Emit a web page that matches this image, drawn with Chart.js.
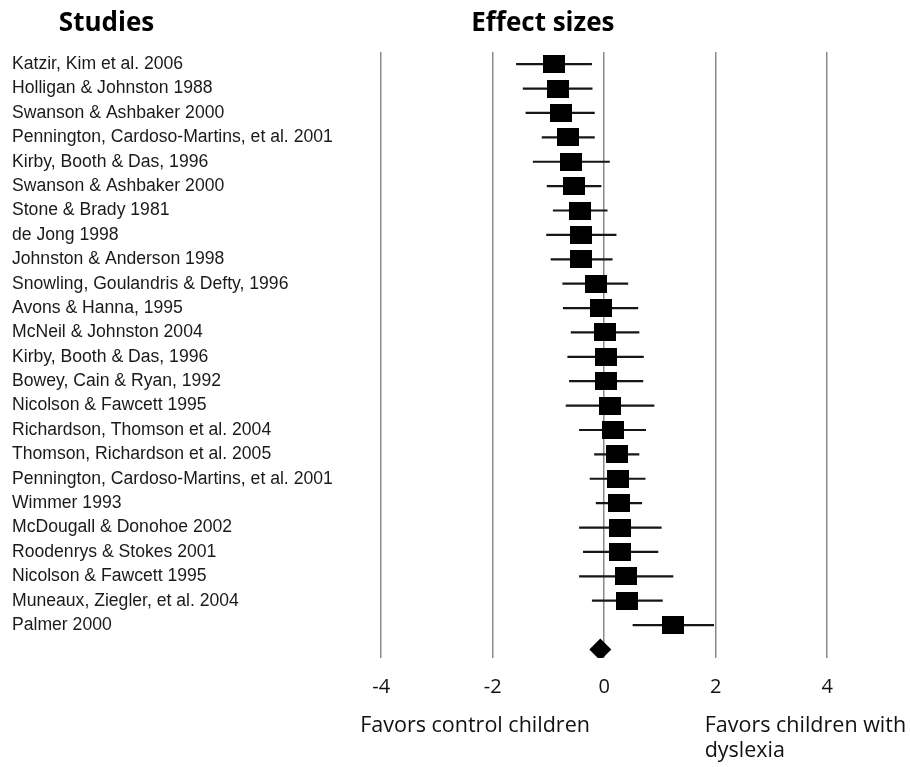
<!DOCTYPE html>
<html>
<head>
<meta charset="utf-8">
<script src="https://cdn.jsdelivr.net/npm/chart.js@4/dist/chart.umd.min.js"></script>
<style>
  html, body { margin: 0; padding: 0; background: #ffffff; }
  #wrap { width: 910px; height: 767px; }
</style>
</head>
<body>
<div id="wrap"><canvas id="forest" width="910" height="767"></canvas></div>
<script>
// Studies, top to bottom
const studies = [
  "Katzir, Kim et al. 2006",
  "Holligan & Johnston 1988",
  "Swanson & Ashbaker 2000",
  "Pennington, Cardoso-Martins, et al. 2001",
  "Kirby, Booth & Das, 1996",
  "Swanson & Ashbaker 2000",
  "Stone & Brady 1981",
  "de Jong 1998",
  "Johnston & Anderson 1998",
  "Snowling, Goulandris & Defty, 1996",
  "Avons & Hanna, 1995",
  "McNeil & Johnston 2004",
  "Kirby, Booth & Das, 1996",
  "Bowey, Cain & Ryan, 1992",
  "Nicolson & Fawcett 1995",
  "Richardson, Thomson et al. 2004",
  "Thomson, Richardson et al. 2005",
  "Pennington, Cardoso-Martins, et al. 2001",
  "Wimmer 1993",
  "McDougall & Donohoe 2002",
  "Roodenrys & Stokes 2001",
  "Nicolson & Fawcett 1995",
  "Muneaux, Ziegler, et al. 2004",
  "Palmer 2000"
];

// Effect size and confidence interval of each study
const effectSize = [-0.90, -0.83, -0.78, -0.65, -0.59, -0.54, -0.43, -0.41, -0.41, -0.15, -0.06, 0.01,
                     0.04,  0.04,  0.11,  0.15,  0.23,  0.24,  0.27,  0.29,  0.29,  0.39,  0.41, 1.24];
const ciLower    = [-1.58, -1.46, -1.41, -1.12, -1.28, -1.03, -0.92, -1.04, -0.96, -0.75, -0.74, -0.60,
                    -0.66, -0.63, -0.69, -0.45, -0.18, -0.26, -0.15, -0.45, -0.38, -0.45, -0.22, 0.51];
const ciUpper    = [-0.22, -0.21, -0.17, -0.17,  0.10, -0.05,  0.06,  0.22,  0.15,  0.43,  0.61,  0.63,
                     0.71,  0.70,  0.90,  0.75,  0.63,  0.74,  0.68,  1.03,  0.97,  1.24,  1.05, 1.97];

// Pooled estimate
const pooledEffect = -0.07;

// Axis ticks
const xTicks = [-4, -2, 0, 2, 4];

// Row positions (the row after the last study holds the pooled diamond)
const rowOf = i => i;
const pooledRow = studies.length;

// Square study marker
const boxMarker = document.createElement('canvas');
boxMarker.width = 22;
boxMarker.height = 18;
(function () {
  const c = boxMarker.getContext('2d');
  c.fillStyle = '#000000';
  c.fillRect(0, 0, 22, 18);
})();

// Whisker segments separated by gaps
const whiskerData = [];
studies.forEach((s, i) => {
  whiskerData.push({ x: ciLower[i], y: rowOf(i) });
  whiskerData.push({ x: ciUpper[i], y: rowOf(i) });
  whiskerData.push({ x: ciUpper[i], y: null });
});

const boxData = effectSize.map((v, i) => ({ x: v, y: rowOf(i) }));

// Headings and direction captions
const captions = {
  id: 'captions',
  afterDraw(chart) {
    const ctx = chart.ctx;
    const xs = chart.scales.x;
    ctx.save();
    ctx.fillStyle = '#000000';
    ctx.textBaseline = 'alphabetic';
    ctx.textAlign = 'center';
    ctx.font = 'bold 26px "Open Sans"';
    ctx.fillText('Studies', 106.5, 31);
    ctx.fillText('Effect sizes', xs.getPixelForValue(-1.1), 31);

    ctx.textAlign = 'left';
    ctx.font = '21.5px "Open Sans"';
    ctx.fillStyle = '#111111';
    ctx.fillText('Favors control children', xs.getPixelForValue(-4) - 21, 731.5);
    ctx.fillText('Favors children with', xs.getPixelForValue(2) - 11, 731.5);
    ctx.fillText('dyslexia', xs.getPixelForValue(2) - 11, 756.5);
    ctx.restore();
  }
};

const whiteBg = {
  id: 'whiteBg',
  beforeDraw(chart) {
    const ctx = chart.ctx;
    ctx.save();
    ctx.fillStyle = '#ffffff';
    ctx.fillRect(0, 0, chart.width, chart.height);
    ctx.restore();
  }
};

new Chart(document.getElementById('forest'), {
  type: 'line',
  data: {
    datasets: [
      {
        type: 'scatter',
        label: 'Effect size',
        data: boxData,
        pointStyle: boxMarker,
        pointRadius: 11,
        showLine: false,
        order: 0
      },
      {
        type: 'scatter',
        label: 'Pooled',
        data: [{ x: pooledEffect, y: pooledRow }],
        pointStyle: 'rectRot',
        pointRadius: 11,
        backgroundColor: '#000000',
        borderColor: '#000000',
        borderWidth: 0,
        showLine: false,
        order: 0
      },
      {
        type: 'line',
        label: 'CI',
        data: whiskerData,
        borderColor: '#161616',
        borderWidth: 2.2,
        pointRadius: 0,
        spanGaps: false,
        fill: false,
        tension: 0,
        order: 1
      }
    ]
  },
  options: {
    responsive: false,
    animation: false,
    events: [],
    layout: { padding: { left: 12, top: 52, right: 4, bottom: 0 } },
    plugins: {
      legend: { display: false },
      tooltip: { enabled: false },
      title: { display: false }
    },
    scales: {
      x: {
        type: 'linear',
        position: 'bottom',
        min: -4.6,
        max: 5.27,
        afterBuildTicks(scale) { scale.ticks = xTicks.map(v => ({ value: v })); },
        afterFit(scale) { scale.height = 109; },
        grid: { display: true, color: '#8a8a8a', lineWidth: 1.5, drawTicks: false },
        border: { display: false },
        ticks: {
          padding: 17,
          color: '#111111',
          font: { family: '"Open Sans"', size: 20 },
          callback: v => String(v)
        }
      },
      y: {
        type: 'linear',
        position: 'left',
        reverse: true,
        min: -0.5,
        max: 24.35,
        afterBuildTicks(scale) { scale.ticks = studies.map((s, i) => ({ value: rowOf(i) })); },
        afterFit(scale) { scale.width = 335.75; },
        grid: { display: false },
        border: { display: false },
        ticks: {
          autoSkip: false,
          crossAlign: 'far',
          padding: 0,
          color: '#1a1a1a',
          font: { family: '"Liberation Sans", Arial, sans-serif', size: 17.6 },
          callback: v => studies[v] !== undefined ? studies[v] : ''
        }
      }
    }
  },
  plugins: [whiteBg, captions]
});
</script>
</body>
</html>
